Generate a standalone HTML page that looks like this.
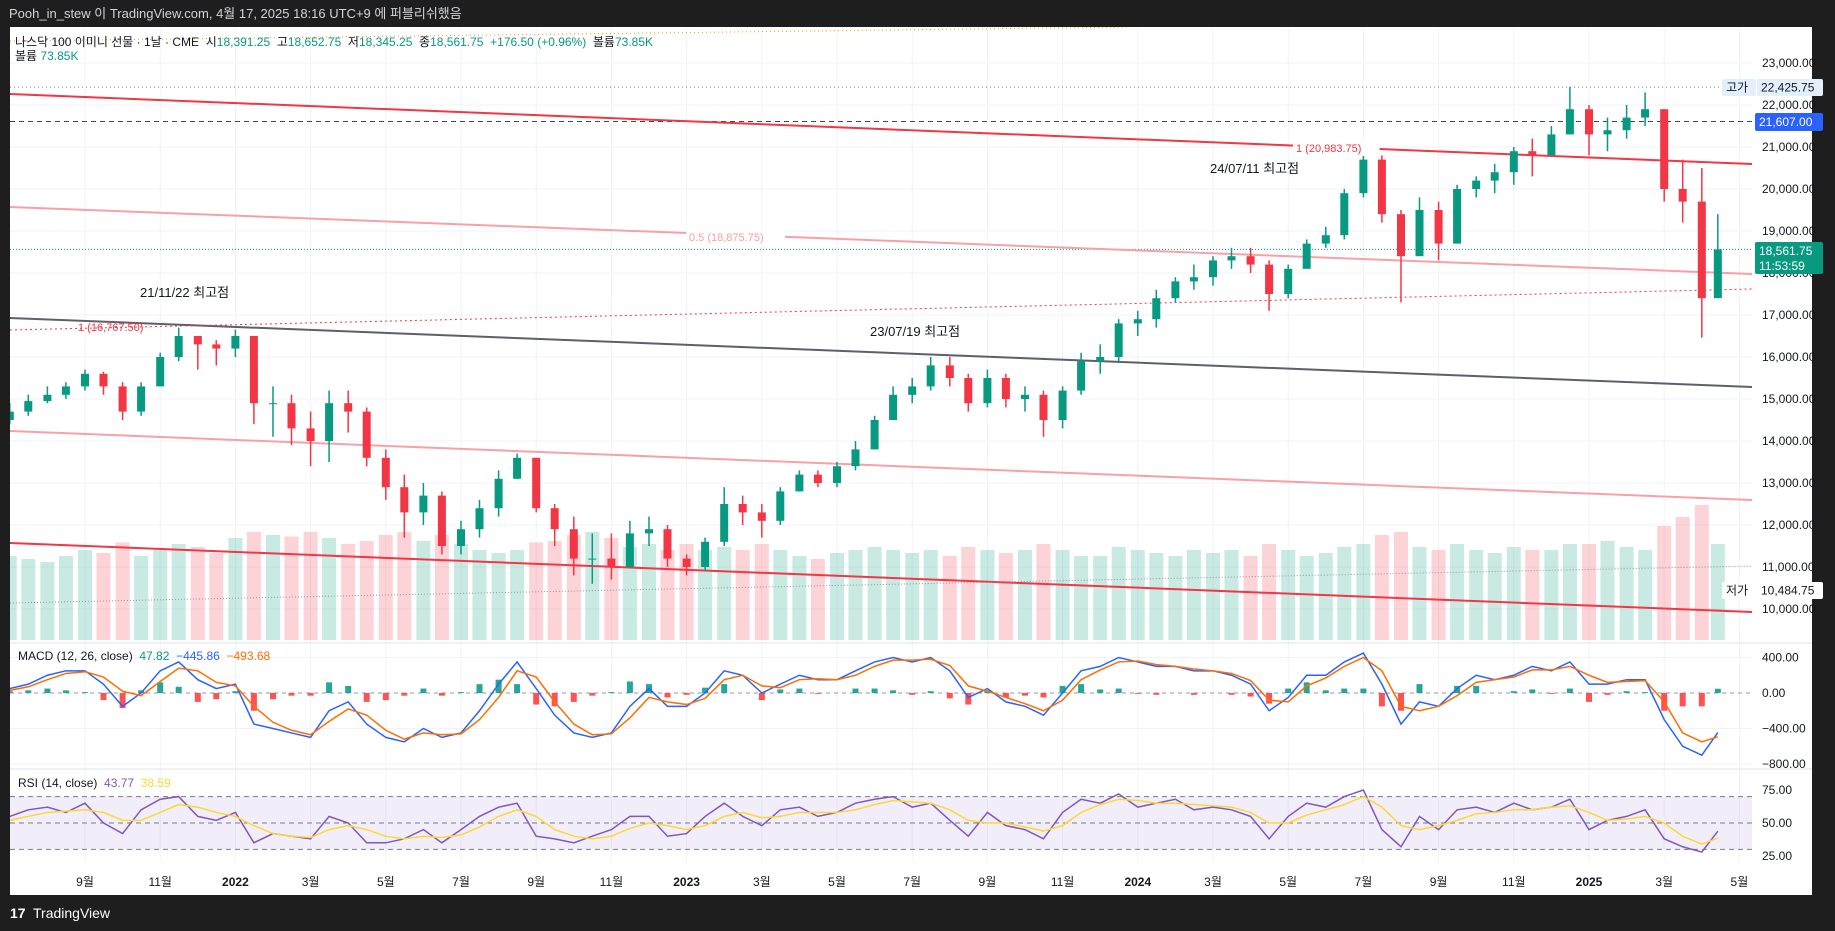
<!DOCTYPE html>
<html><head><meta charset="utf-8">
<style>
html,body{margin:0;padding:0;background:#1e1e1e;}
body{width:1835px;height:931px;position:relative;overflow:hidden;font-family:"Liberation Sans","Noto Sans CJK KR",sans-serif;}
svg{position:absolute;left:0;top:0;}
</style></head>
<body>
<svg id="chart" width="1835" height="931"><defs><clipPath id="plotclip"><rect x="10" y="27" width="1742" height="835"/></clipPath></defs></svg>
<script>
const dates=["2021-07-01","2021-07-16","2021-08-01","2021-08-16","2021-09-01","2021-09-16","2021-10-01","2021-10-16","2021-11-01","2021-11-16","2021-12-01","2021-12-16",
"2022-01-01","2022-01-16","2022-02-01","2022-02-16","2022-03-01","2022-03-16","2022-04-01","2022-04-16","2022-05-01","2022-05-16","2022-06-01","2022-06-16","2022-07-01","2022-07-16","2022-08-01","2022-08-16","2022-09-01","2022-09-16","2022-10-01","2022-10-16","2022-11-01","2022-11-16","2022-12-01","2022-12-16",
"2023-01-01","2023-01-16","2023-02-01","2023-02-16","2023-03-01","2023-03-16","2023-04-01","2023-04-16","2023-05-01","2023-05-16","2023-06-01","2023-06-16","2023-07-01","2023-07-16","2023-08-01","2023-08-16","2023-09-01","2023-09-16","2023-10-01","2023-10-16","2023-11-01","2023-11-16","2023-12-01","2023-12-16",
"2024-01-01","2024-01-16","2024-02-01","2024-02-16","2024-03-01","2024-03-16","2024-04-01","2024-04-16","2024-05-01","2024-05-16","2024-06-01","2024-06-16","2024-07-01","2024-07-16","2024-08-01","2024-08-16","2024-09-01","2024-09-16","2024-10-01","2024-10-16","2024-11-01","2024-11-16","2024-12-01","2024-12-16",
"2025-01-01","2025-01-16","2025-02-01","2025-02-16","2025-03-01","2025-03-16","2025-04-01","2025-04-14"];
const closes=[14700,14950,15100,15300,15600,15300,14700,15300,16000,16500,16300,16200,
16500,14900,14900,14300,14000,14900,14700,13600,12900,12300,12700,11500,11900,12400,13100,13600,12400,11900,11200,11200,11000,11800,11900,11200,
11000,11600,12500,12300,12100,12800,13200,13000,13400,13800,14500,15100,15300,15800,15500,14900,15500,15000,15100,14500,15200,15900,16000,16800,
16900,17400,17800,17900,18300,18400,18200,17500,18100,18700,18900,19900,20700,19400,18400,19500,18700,20000,20200,20400,20900,20800,21300,21900,
21300,21400,21700,21900,20000,19700,17400,18561.75];
const highs=[14900,15100,15300,15400,15700,15650,15400,15400,16100,16700,16500,16400,
16650,16500,15300,15100,14700,15200,15200,14800,13800,13200,13000,12800,12100,12600,13300,13700,13600,12500,12200,11800,11800,12100,12200,12000,
11300,11700,12900,12700,12500,12900,13300,13300,13500,14000,14600,15300,15500,16000,16000,15600,15700,15600,15300,15200,15300,16100,16300,16900,
17100,17600,17900,18200,18400,18600,18600,18300,18200,18800,19100,20000,20983,20800,19500,19800,19700,20100,20300,20600,21000,21200,21500,22425,
22000,21700,22000,22300,21800,20700,20500,19400];
const lows=[14400,14600,14900,15000,15200,15100,14500,14600,15300,15900,15700,15800,
16000,14400,14100,13900,13400,13500,14200,13400,12600,11700,12000,11300,11300,11700,12200,13100,12300,11500,10800,10600,10700,11000,11500,11000,
10800,10900,11500,12000,11700,12000,12800,12900,12900,13300,13800,14500,14900,15200,15300,14700,14800,14800,14700,14100,14300,15100,15600,15900,
16500,16700,17300,17600,17700,18100,18000,17100,17400,18100,18600,18800,19800,19200,17300,18600,18300,18700,19800,19900,20100,20300,20800,21300,
20800,20900,21200,21500,19700,19200,16460,17800];
const volumes=[560,540,520,560,600,580,650,560,600,640,620,580,
680,720,700,690,720,680,640,660,700,720,660,700,640,600,580,600,650,660,700,720,680,620,640,600,
640,600,620,600,640,600,560,540,580,600,620,600,580,600,560,620,600,580,600,640,600,560,560,620,
600,580,560,600,580,600,560,640,600,560,580,620,640,700,720,620,600,640,600,580,620,600,600,640,
640,660,620,600,760,820,900,640];
const macdVals=[50,100,200,250,250,100,-150,0,250,350,150,50,
100,-350,-400,-450,-500,-200,-100,-350,-500,-550,-400,-500,-450,-200,100,350,50,-250,-450,-500,-450,-150,50,-150,
-150,0,250,200,0,100,200,150,150,250,350,400,350,400,250,-50,50,-100,-150,-250,0,250,300,400,
350,300,300,250,250,200,100,-200,-50,200,200,350,450,100,-350,-100,-150,50,200,150,200,300,250,350,
100,100,150,150,-300,-600,-700,-445.86];
const signalVals=[30,70,150,220,240,180,20,-30,130,280,250,120,
80,-150,-330,-420,-470,-320,-180,-250,-420,-520,-450,-470,-460,-300,-50,250,180,-100,-350,-470,-460,-280,-50,-100,
-130,-60,150,200,80,60,150,160,150,200,300,370,370,380,310,80,20,-50,-120,-200,-80,150,260,350,
360,320,300,270,250,220,140,-80,-100,80,170,300,400,250,-150,-200,-150,-30,120,150,180,260,260,300,
200,120,130,140,-100,-450,-550,-493.68];
const rsiVals=[55,60,62,58,65,50,42,60,68,70,55,52,
58,35,42,40,38,55,50,35,35,38,45,35,45,55,62,65,40,38,35,40,45,55,55,40,
42,55,65,55,48,60,62,55,58,65,68,70,62,65,52,40,58,48,45,38,58,68,65,72,
62,65,68,60,62,60,55,38,55,65,62,70,75,45,32,55,45,60,62,58,65,60,62,68,
45,52,55,60,38,32,28,43.77];
const rsiMaVals=[52,55,58,59,60,58,52,52,58,64,62,58,
55,48,42,40,39,45,48,45,40,38,40,39,41,47,55,60,55,45,40,38,40,46,50,48,
45,48,55,58,54,55,58,58,58,60,64,67,66,65,60,52,50,50,47,44,48,58,64,68,
67,65,65,64,63,62,58,50,50,56,60,64,70,62,48,45,48,52,57,58,60,60,62,63,
58,52,53,55,50,40,34,38.59];
const priceTicks=[10000,11000,12000,13000,14000,15000,16000,17000,18000,19000,20000,21000,22000,23000];
const macdTicks=[400,0,-400,-800];
const macdTickLabels=["400.00","0.00","−400.00","−800.00"];
const rsiTicks=[75,50,25];
const timeTickDates=["2021-09-01","2021-11-01","2022-01-01","2022-03-01","2022-05-01","2022-07-01","2022-09-01","2022-11-01","2023-01-01","2023-03-01","2023-05-01","2023-07-01","2023-09-01","2023-11-01","2024-01-01","2024-03-01","2024-05-01","2024-07-01","2024-09-01","2024-11-01","2025-01-01","2025-03-01","2025-05-01"];
const timeTickLabels=["9월","11월","2022","3월","5월","7월","9월","11월","2023","3월","5월","7월","9월","11월","2024","3월","5월","7월","9월","11월","2025","3월","5월"];

const NS="http://www.w3.org/2000/svg";
const svg=document.getElementById('chart');
const PL=10,PR=1752,AX=1762;
function xOf(d){const p=d.split('-').map(Number);const m=(p[0]-2021)*12+(p[1]-1)+(p[2]-1)/30.5;return 1589+(m-48)*37.6;}
function yP(v){return 63+(23000-v)*0.042;}
function yM(v){return 693-v*35.5/400;}
function yR(v){return 823-(v-50)*33/25;}
function yV(v){return 640-v*0.15;}
function el(tag,attrs,parent){const e=document.createElementNS(NS,tag);for(const k in attrs)e.setAttribute(k,attrs[k]);(parent||svg).appendChild(e);return e;}
function txt(s,x,y,attrs,parent){const t=el('text',Object.assign({x:x,y:y,'font-size':12,fill:'#131722','font-family':'Liberation Sans, Noto Sans CJK KR, sans-serif'},attrs||{}),parent);t.textContent=s;return t;}

const bg=el('rect',{x:10,y:27,width:1802,height:868,fill:'#ffffff'});


const hdr=txt('Pooh_in_stew 이 TradingView.com, 4월 17, 2025 18:16 UTC+9 에 퍼블리쉬했음',9,18,{fill:'#d1d4dc','font-size':13});



const plot=el('g',{'clip-path':'url(#plotclip)'});



const grid=el('g',{stroke:'#f0f3fa','stroke-width':1},plot);


timeTickDates.forEach(d=>{const x=xOf(d);el('line',{x1:x,x2:x,y1:27,y2:862},grid);});
priceTicks.forEach(v=>{el('line',{x1:PL,x2:PR,y1:yP(v),y2:yP(v)},grid);});
macdTicks.forEach(v=>{el('line',{x1:PL,x2:PR,y1:yM(v),y2:yM(v)},grid);});
el('line',{x1:10,x2:1812,y1:643,y2:643,stroke:'#e0e3eb','stroke-width':1});
el('line',{x1:10,x2:1812,y1:769,y2:769,stroke:'#e0e3eb','stroke-width':1});

const volG=el('g',{},plot);


volumes.forEach((v,i)=>{const x=xOf(dates[i]);const up=i==0||closes[i]>=closes[i-1];
 const r=el('rect',{x:x-7,y:yV(v),width:14,height:640-yV(v),fill:up?'rgba(8,153,129,0.22)':'rgba(242,54,69,0.22)'},volG);
 
 });

const hl1=el('line',{x1:PL,x2:PR,y1:yP(22425.75),y2:yP(22425.75),stroke:'#787b86','stroke-dasharray':'1 3'},plot);


const hl2=el('line',{x1:PL,x2:PR,y1:yP(21607),y2:yP(21607),stroke:'#434651','stroke-dasharray':'5 4'},plot);


const hl3=el('line',{x1:PL,x2:PR,y1:yP(18561.75),y2:yP(18561.75),stroke:'#089981','stroke-dasharray':'1 2'},plot);



function tl(name,x1,y1,x2,y2,st){const l=el('line',Object.assign({x1:x1,y1:y1,x2:x2,y2:y2},st),plot);return l;}
tl('upper-red-trendline',PL,94,PR,164,{stroke:'#f23645','stroke-width':2});
tl('mid-pink-trendline',PL,207,PR,274,{stroke:'#f7a1a7','stroke-width':2});
tl('lower-pink-trendline',PL,431,PR,500,{stroke:'#f7a1a7','stroke-width':2});
tl('lower-red-trendline',PL,543,PR,612,{stroke:'#f23645','stroke-width':2});
tl('gray-trendline',PL,318,PR,387,{stroke:'#5d606b','stroke-width':2});
tl('red-dotted-line',PL,330,PR,289,{stroke:'#f23645','stroke-width':1,'stroke-dasharray':'2 3'});
tl('gray-dotted-line',PL,603,PR,566,{stroke:'#9598a1','stroke-width':1,'stroke-dasharray':'1 2'});
tl('orange-dotted-line',PL,41,1130,27,{stroke:'#ff9800','stroke-width':1,'stroke-dasharray':'1 3'});

const cG=el('g',{},plot);


closes.forEach((c,i)=>{const o=i==0?14500:closes[i-1];const x=xOf(dates[i]);const up=c>=o;const col=up?'#089981':'#f23645';
 const w=el('line',{x1:x,x2:x,y1:yP(highs[i]),y2:yP(lows[i]),stroke:col,'stroke-width':1.5},cG);
 
 
 const t=Math.min(yP(o),yP(c));const h=Math.max(1,Math.abs(yP(o)-yP(c)));
 const b=el('rect',{x:x-4,y:t,width:8,height:h,fill:col},cG);
 
 });

function lab(name,s,x,y,attrs,boxed){
 if(boxed){const r=el('rect',{x:x-3,y:y-11,width:s.length*6.2+6,height:15,fill:'#ffffff'});}
 const t=txt(s,x,y,attrs);return t;}
lab('fib-1-label','1 (20,983.75)',1296,152,{fill:'#f23645','font-size':11},true);
lab('fib-05-label','0.5 (18,875.75)',689,241,{fill:'#f7a1a7','font-size':11},true);
lab('fib-1-lower-label','1 (16,767.50)',78,331,{fill:'#f23645','font-size':11},false);
lab('peak-2024-label','24/07/11 최고점',1210,173,{'font-size':13});
lab('peak-2021-label','21/11/22 최고점',140,297,{'font-size':13});
lab('peak-2023-label','23/07/19 최고점',870,336,{'font-size':13});

const mG=el('g',{},plot);


el('line',{x1:PL,x2:PR,y1:yM(0),y2:yM(0),stroke:'#9598a1','stroke-dasharray':'4 4'},mG);
macdVals.forEach((v,i)=>{const hv=v-signalVals[i];const x=xOf(dates[i]);
 const r=el('rect',{x:x-3,y:Math.min(yM(0),yM(hv)),width:6,height:Math.abs(yM(hv)-yM(0)),fill:hv>=0?'#26a69a':'#ff5252'},mG);
 
 });
const mL=el('polyline',{points:macdVals.map((v,i)=>xOf(dates[i])+','+yM(v)).join(' '),fill:'none',stroke:'#2962ff','stroke-width':1.5},mG);


const sL=el('polyline',{points:signalVals.map((v,i)=>xOf(dates[i])+','+yM(v)).join(' '),fill:'none',stroke:'#ff6d00','stroke-width':1.5},mG);



const rG=el('g',{},plot);


el('rect',{x:PL,y:yR(70),width:PR-PL,height:yR(30)-yR(70),fill:'rgba(126,87,194,0.1)'},rG);
[70,50,30].forEach(v=>el('line',{x1:PL,x2:PR,y1:yR(v),y2:yR(v),stroke:'#787b86','stroke-dasharray':'5 4'},rG));
const rL=el('polyline',{points:rsiVals.map((v,i)=>xOf(dates[i])+','+yR(v)).join(' '),fill:'none',stroke:'#7e57c2','stroke-width':1.5},rG);


const rmL=el('polyline',{points:rsiMaVals.map((v,i)=>xOf(dates[i])+','+yR(v)).join(' '),fill:'none',stroke:'#fdd835','stroke-width':1.5},rG);



const axG=el('g',{});


priceTicks.forEach(v=>{txt(v.toLocaleString('en-US')+'.00',AX,yP(v)+4,{},axG);});
macdTicks.forEach((v,i)=>{txt(macdTickLabels[i],AX,yM(v)+4,{},axG);});
rsiTicks.forEach(v=>{txt(v.toFixed(2),AX,yR(v)+4,{},axG);});
const tG=el('g',{});


timeTickDates.forEach((d,i)=>{txt(timeTickLabels[i],xOf(d),886,{'text-anchor':'middle','font-weight':timeTickLabels[i].length==4?'bold':'normal'},tG);});

function tag(name,x,y,w,h,bgc,fg,s){const g=el('g',{});el('rect',{x:x,y:y,width:w,height:h,fill:bgc,rx:2},g);txt(s,x+4,y+h/2+4,{fill:fg},g);return g;}
tag('high-tag-label',1722,79,34,17,'#e3effd','#131722','고가');
tag('high-price-tag',1757,79,66,17,'#e3effd','#131722','22,425.75');
tag('alert-price-tag',1755,113,68,18,'#2962ff','#ffffff','21,607.00');
const lt=el('g',{});
el('rect',{x:1755,y:242,width:68,height:32,fill:'#089981',rx:2},lt);
txt('18,561.75',1759,255,{fill:'#fff'},lt);txt('11:53:59',1759,270,{fill:'#fff'},lt);
tag('low-tag-label',1722,582,34,17,'#ffffff','#131722','저가');
tag('low-price-tag',1757,582,66,17,'#ffffff','#131722','10,484.75');

const lg=el('g',{});
const t1=txt('',15,46,{'font-size':12},lg);
[['나스닥 100 이미니 선물 · 1날 · CME  시','#131722'],['18,391.25','#089981'],['  고','#131722'],['18,652.75','#089981'],['  저','#131722'],['18,345.25','#089981'],['  종','#131722'],['18,561.75  +176.50 (+0.96%)','#089981'],['  볼륨','#131722'],['73.85K','#089981']].forEach(p=>{const s=document.createElementNS(NS,'tspan');s.setAttribute('fill',p[1]);s.textContent=p[0];t1.appendChild(s);});
t1.setAttribute('style','white-space:pre');
const t2=txt('',15,60,{'font-size':12},lg);
[['볼륨 ','#131722'],[' 73.85K','#089981']].forEach(p=>{const s=document.createElementNS(NS,'tspan');s.setAttribute('fill',p[1]);s.textContent=p[0];t2.appendChild(s);});
const t3=txt('',18,660,{'font-size':12});
[['MACD (12, 26, close)  ','#131722'],['47.82  ','#089981'],['−445.86  ','#2962ff'],['−493.68','#ff6d00']].forEach(p=>{const s=document.createElementNS(NS,'tspan');s.setAttribute('fill',p[1]);s.textContent=p[0];t3.appendChild(s);});
t3.setAttribute('style','white-space:pre');
const t4=txt('',18,787,{'font-size':12});
[['RSI (14, close)  ','#131722'],['43.77  ','#7e57c2'],['38.59','#fdd835']].forEach(p=>{const s=document.createElementNS(NS,'tspan');s.setAttribute('fill',p[1]);s.textContent=p[0];t4.appendChild(s);});
t4.setAttribute('style','white-space:pre');

const lo=txt('TradingView',33,918,{fill:'#ffffff','font-size':14});


const lm=txt('17',10,918,{fill:'#ffffff','font-size':14,'font-weight':'bold'});


</script>
</body></html>
